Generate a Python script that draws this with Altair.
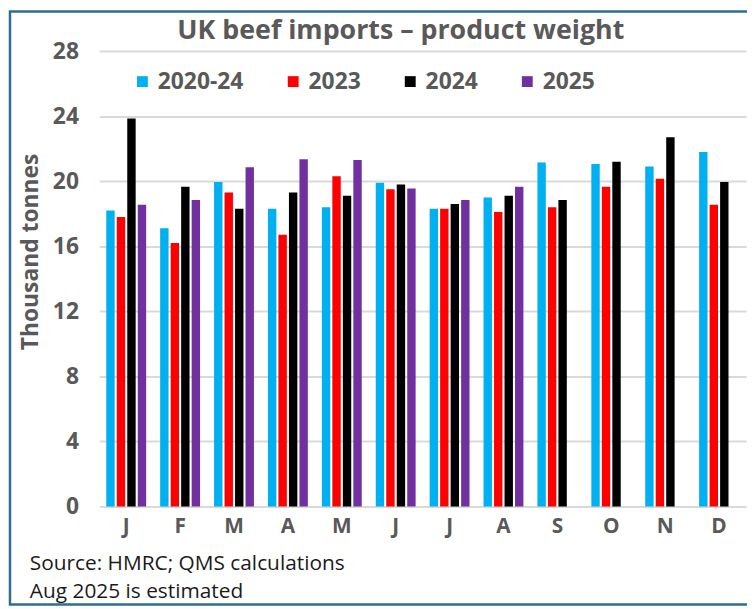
import json
import altair as alt
import pandas as pd

months = ["J", "F", "M", "A", "M", "J", "J", "A", "S", "O", "N", "D"]
series = ["2020-24", "2023", "2024", "2025"]
avg_2020_24 = [18.2, 17.1, 19.95, 18.3, 18.4, 19.9, 18.3, 19.0, 21.15, 21.05, 20.9, 21.8]
y2023 = [17.8, 16.2, 19.3, 16.7, 20.3, 19.5, 18.3, 18.1, 18.4, 19.65, 20.15, 18.55]
y2024 = [23.85, 19.65, 18.3, 19.3, 19.1, 19.8, 18.6, 19.1, 18.85, 21.2, 22.7, 19.95]
y2025 = [18.55, 18.85, 20.85, 21.35, 21.3, 19.55, 18.85, 19.65]
colors = ["#00b0f0", "#ff0000", "#000000", "#7030a0"]
y_ticks = [0, 4, 8, 12, 16, 20, 24, 28]
title_text = "UK beef imports \u2013 product weight"
notes = ["Source: HMRC; QMS calculations", "Aug 2025 is estimated"]

rows = []
for name, vals in zip(series, [avg_2020_24, y2023, y2024, y2025]):
    for i, v in enumerate(vals):
        rows.append({"m": i, "series": name, "value": v})
df = pd.DataFrame(rows)

FONT = "Open Sans"
GREY = "#595959"
W, H = 652, 459

label_expr = json.dumps(months) + "[datum.value]"

bars = alt.Chart(df).mark_bar().encode(
    x=alt.X("m:O", title=None,
            scale=alt.Scale(paddingInner=0.26, paddingOuter=0.13),
            axis=alt.Axis(labelExpr=label_expr, labelAngle=0, domain=False, ticks=False,
                          labelFont=FONT, labelFontSize=21, labelFontWeight="bold",
                          labelColor=GREY, labelPadding=9)),
    xOffset=alt.XOffset("series:N", scale=alt.Scale(domain=series, paddingInner=0.2, paddingOuter=0)),
    y=alt.Y("value:Q", title="Thousand tonnes",
            scale=alt.Scale(domain=[0, 28], nice=False),
            axis=alt.Axis(values=y_ticks, domain=False, ticks=False, grid=True,
                          gridColor="#d9d9d9", gridWidth=2,
                          labelFont=FONT, labelFontSize=23, labelFontWeight="bold",
                          labelColor=GREY, labelPadding=21,
                          titleFont=FONT, titleFontSize=23, titleFontWeight="bold",
                          titleColor=GREY, titleAngle=-90, titleX=-62, titleY=202,
                          titleAlign="center", titleBaseline="alphabetic")),
    color=alt.Color("series:N", scale=alt.Scale(domain=series, range=colors),
                    legend=alt.Legend(title=None, orient="none", legendX=32, legendY=19,
                                      direction="horizontal", symbolType="square",
                                      symbolSize=120, symbolStrokeWidth=0,
                                      labelFont=FONT, labelFontSize=23,
                                      labelFontWeight="bold", labelColor=GREY,
                                      columnPadding=38, labelOffset=4)),
)

frame = alt.Chart(pd.DataFrame({"a": [0]})).mark_rect(
    filled=False, stroke="#2e6e8e", strokeWidth=2.5
).encode(x=alt.value(-90), x2=alt.value(700), y=alt.value(-40), y2=alt.value(558))

title = alt.Chart(pd.DataFrame({"t": [title_text]})).mark_text(
    font=FONT, fontSize=27, fontWeight="bold", color=GREY, align="center", baseline="alphabetic"
).encode(text="t:N", x=alt.value(304), y=alt.value(-12))

note_df = pd.DataFrame({"t": notes, "yy": [523, 551]})
note = alt.Chart(note_df).mark_text(
    font=FONT, fontSize=21, color="#1a1a1a", align="left", baseline="alphabetic"
).encode(text="t:N", x=alt.value(-70), y=alt.Y("yy:Q", scale=None))

chart = alt.layer(frame, bars, title, note).properties(
    width=W, height=H,
    padding={"left": 92, "top": 41, "right": 1, "bottom": 101},
    autosize=alt.AutoSizeParams(type="none"),
).configure_view(stroke=None)

chart.save("out.html", embed_options={"renderer": "svg", "actions": False})
